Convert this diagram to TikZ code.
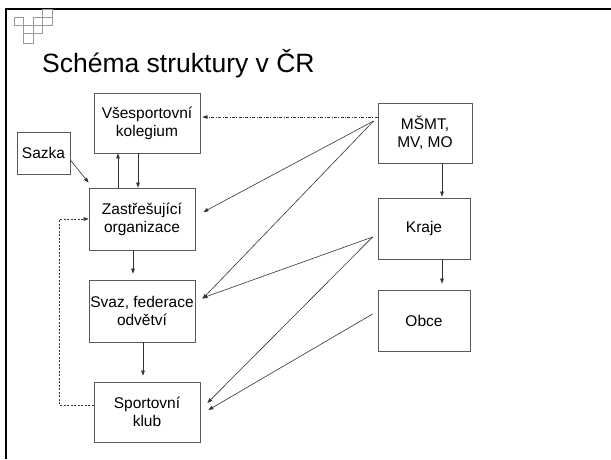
\documentclass[tikz,border=0pt]{standalone}
\usepackage{fontspec}
\setmainfont{Liberation Sans}
\usetikzlibrary{arrows.meta}

\tikzset{
  box/.style={draw=black!65, line width=0.8pt, minimum width=106pt, minimum height=61pt,
    inner sep=0pt, align=center, font=\fontsize{15.5}{18}\selectfont},
  arr/.style={draw=black!80, line width=0.6pt, -{Triangle[length=5pt,width=3.6pt]}},
  dashdot line/.style={dash pattern=on 3pt off 1.5pt on 0.8pt off 1.5pt},
  cell/.style={draw=black!40, line width=0.6pt},
}

\begin{document}
\begin{tikzpicture}[x=1pt,y=-1pt]
  \useasboundingbox (0,0) rectangle (611,459);
  % slide frame and corner squares
  \draw[line width=2.2pt] (6,459) -- (6,9.3) -- (611,9.3);
  \draw[cell] (14,17)   rectangle (23.5,25)
              (23.5,25) rectangle (33,33.5)
              (23.5,33.5) rectangle (33,43)
              (33,17)   rectangle (42.5,25)
              (33,25)   rectangle (42.5,33.5)
              (42.5,9.3) rectangle (52,17)
              (42.5,17) rectangle (52,25);
  \node[anchor=base west, inner sep=0pt, font=\fontsize{26.5}{30}\selectfont] (title) at (42,72) {Schéma struktury v ČR};

  \node[box, minimum height=60pt] (vk) at (147,123)   {Všesportovní\\kolegium};
  \node[box, minimum width=53pt, minimum height=42pt] (sz) at (43.5,153) {Sazka};
  \node[box, minimum height=62pt] (zo) at (142,219)   {Zastřešující\\organizace};
  \node[box, minimum height=62pt] (sv) at (142,311)   {Svaz, federace\\odvětví};
  \node[box, minimum height=60pt] (sk) at (147,412)   {Sportovní\\klub};
  \node[box, minimum width=94pt, minimum height=60pt] (ms) at (425,133) {MŠMT,\\MV, MO};
  \node[box, minimum width=92pt] (kr) at (424,228.5) {Kraje};
  \node[box, minimum width=92pt] (ob) at (424,320.5) {Obce};

  \coordinate (vk-in)  at ([shift={(2pt,6pt)}]vk.east);
  \coordinate (ms-out) at ([shift={(-4pt,12pt)}]ms.west);
  \coordinate (kr-out) at ([shift={(-5pt,-8.5pt)}]kr.west);
  \coordinate (ob-out) at ([shift={(-5pt,6.5pt)}]ob.west);

  \draw[arr] ([xshift=-9pt]vk.south) -- ([xshift=-9pt]vk.south |- zo.north);
  \draw[arr] ([xshift=-24pt]zo.north) -- ([xshift=-24pt]zo.north |- vk.south);
  \draw[arr] ([yshift=-7pt]sz.east) -- ([yshift=5pt]zo.north west);
  \draw[arr, shorten >=6pt] ([xshift=-9pt]zo.south) -- ([xshift=-9pt]zo.south |- sv.north);
  \draw[arr, shorten >=6pt] ([xshift=1pt]sv.south) -- ([xshift=1pt]sv.south |- sk.north);
  \draw[arr, dash pattern=on 2pt off 1.5pt] ([yshift=7pt]sk.west) -- ++(-34pt,0) |- (zo.west);

  \draw[arr, dashdot line] ([yshift=16pt]ms.west) -- (vk-in);
  \draw[arr] (ms-out) -- ([shift={(8pt,7pt)}]zo.east);
  \draw[arr] (ms-out) -- ([shift={(7pt,12pt)}]sv.east);
  \draw[arr] (kr-out) -- ([shift={(7pt,13pt)}]sv.east);
  \draw[arr] (kr-out) -- ([shift={(7pt,9pt)}]sk.east);
  \draw[arr] (ob-out) -- ([shift={(8pt,2pt)}]sk.east);
  \draw[arr, shorten >=1pt] ([xshift=17pt]ms.south) -- ([xshift=17pt]ms.south |- kr.north);
  \draw[arr, shorten >=6pt] ([xshift=18pt]kr.south) -- ([xshift=18pt]kr.south |- ob.north);
\end{tikzpicture}
\end{document}
